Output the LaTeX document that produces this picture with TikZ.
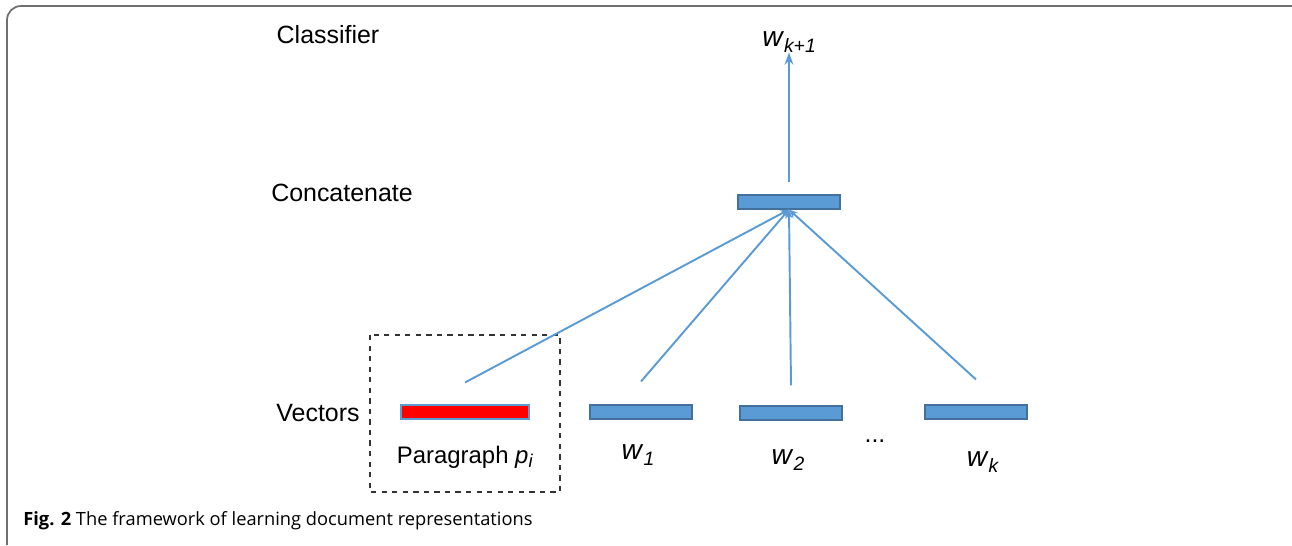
\documentclass[tikz,border=0pt]{standalone}
\usepackage{fontspec}
\setmainfont{Liberation Sans}
\newfontfamily\captionfont{Open Sans}
\usepackage{tikz}
\usetikzlibrary{arrows.meta, positioning, calc}

\definecolor{vecblue}{HTML}{5B9BD5}
\definecolor{vecedge}{HTML}{41719C}
\definecolor{framegray}{HTML}{707070}

% italic word symbol with a subscript
\newcommand{\wsym}[1]{{\fontsize{16}{18}\selectfont\textit{w}}\raisebox{-0.4ex}{\fontsize{11}{12}\selectfont\textit{#1}}}

\tikzset{
    vecbox/.style={draw=vecedge, fill=vecblue, line width=0.6pt, minimum width=2.04cm, minimum height=0.28cm, inner sep=0pt},
    link/.style={draw=vecblue, line width=1.1pt},
    lbl/.style={font=\fontsize{14.2}{17}\selectfont, inner sep=0pt}
}

\begin{document}
\begin{tikzpicture}[>=stealth, x=0.02cm, y=-0.02cm]
    \useasboundingbox (0,0) rectangle (1292,545);

    % frame of the figure
    \draw [framegray, line width=1pt, rounded corners=8] (7,545) -- (7,6) -- (1292,6);

    % row labels
    \node (lclass) at (328,35) [lbl] {Classifier};
    \node (lconcat) at (342,193) [lbl] {Concatenate};
    \node (lvec) at (318,413) [lbl] {Vectors};

    % concatenated vector and prediction
    \node (concat) at (789,202) [vecbox] {};
    \node (out) at (789,42) [lbl] {\wsym{k+1}};
    \draw [link, -{Stealth[length=7pt, width=5pt]}] ($(concat.north)+(0,-12)$) -- (out.south);

    % input vectors
    \node (para) at (465,412) [vecbox, fill=red, draw=vecblue, minimum width=2.56cm] {};
    \node (v1) at (641,412) [vecbox] {};
    \node (v2) at (791,413) [vecbox] {};
    \node (vk) at (976,412) [vecbox] {};

    \node (tpara) at (465,457) [lbl, font=\fontsize{13.6}{16}\selectfont] {Paragraph \textit{p}\raisebox{-0.35ex}{\fontsize{10.5}{11}\selectfont\textit{i}}};
    \node (t1) at (638,455) [lbl] {\wsym{1}};
    \node (t2) at (788,460) [lbl] {\wsym{2}};
    \node (tdots) at (875,441) [lbl] {...};
    \node (tk) at (983,462) [lbl] {\wsym{k}};

    % paragraph box
    \draw [dashed, line width=0.8pt, black!80] (370,335) rectangle (560,492);

    % links into the concatenation
    \draw [link, -{Stealth[length=5pt, width=4pt]}] ($(para.north)+(0,-22)$) -- (concat.south);
    \draw [link, -{Stealth[length=5pt, width=4pt]}] ($(v1.north)+(0,-23)$) -- (concat.south);
    \draw [link, -{Stealth[length=5pt, width=4pt]}] ($(v2.north)+(0,-20)$) -- (concat.south);
    \draw [link, -{Stealth[length=5pt, width=4pt]}] ($(vk.north)+(0,-25)$) -- (concat.south);

    % caption
    \node (cap) at (23,521) [anchor=west, inner sep=0pt, font=\captionfont\fontsize{10.4}{13}\selectfont] {\textbf{Fig. 2} The framework of learning document representations};
\end{tikzpicture}
\end{document}
